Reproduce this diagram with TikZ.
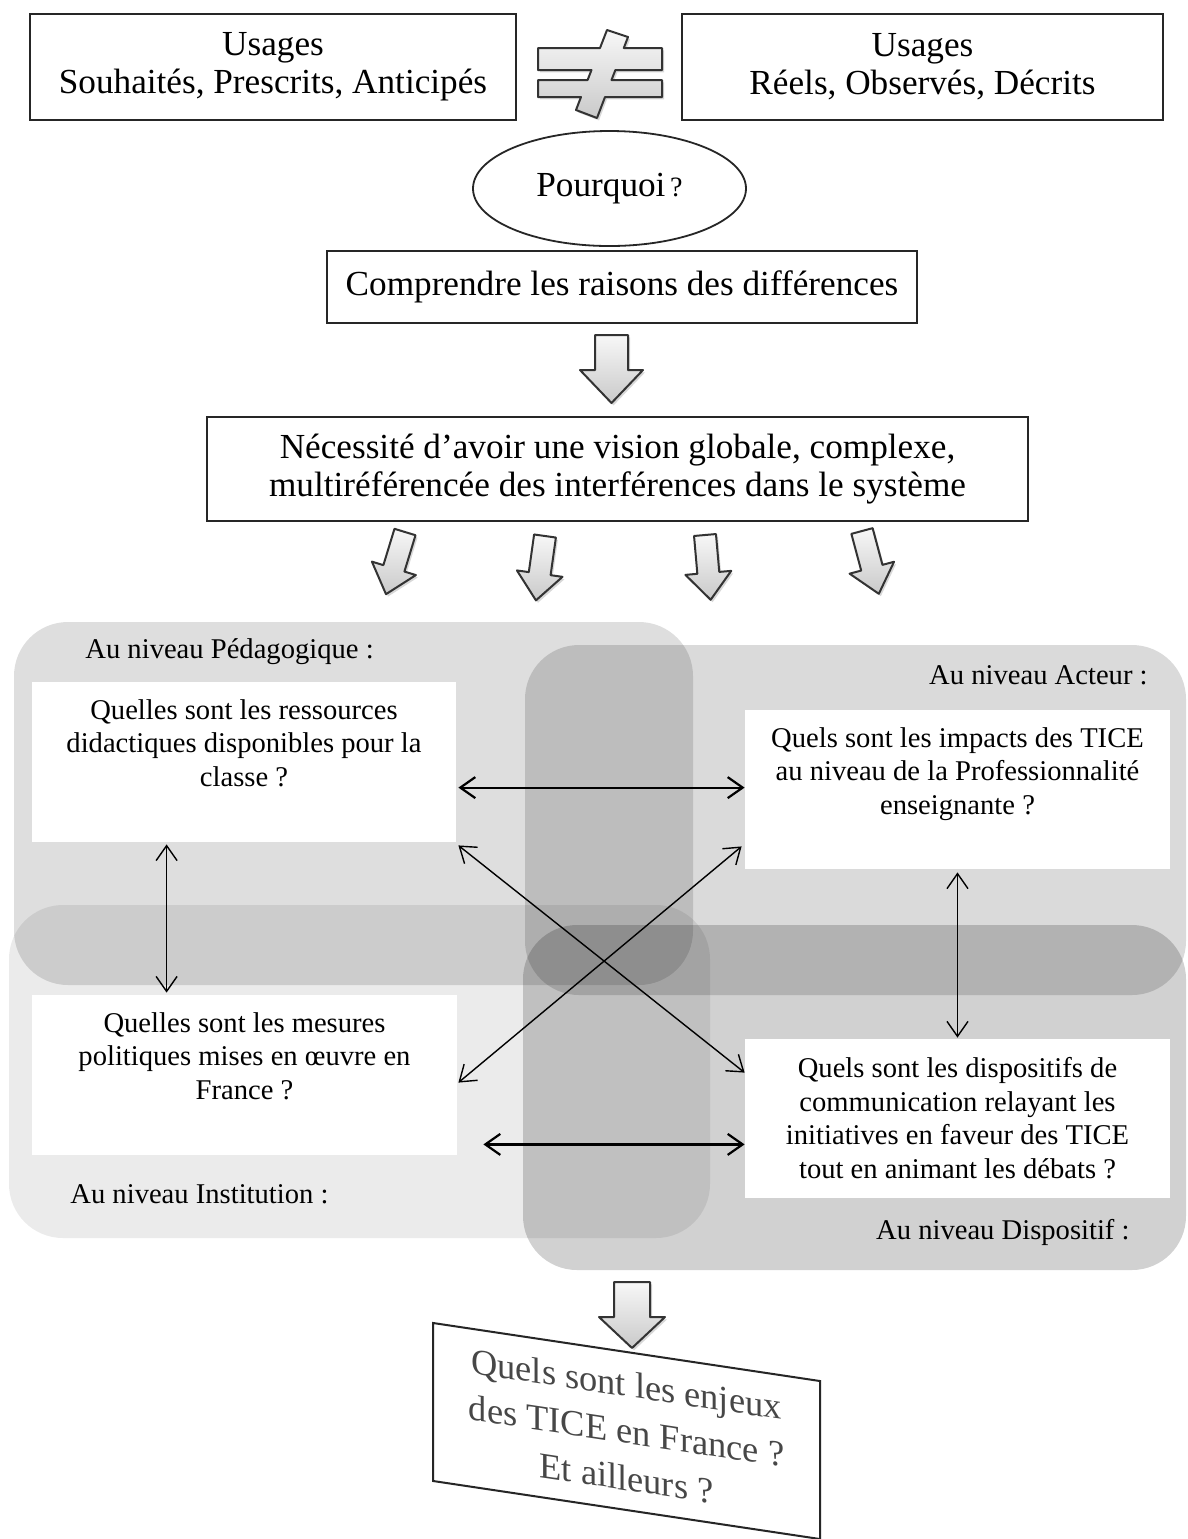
\documentclass[tikz,border=0pt]{standalone}
\usepackage{fontspec}
\setmainfont{Liberation Serif}
\usetikzlibrary{arrows.meta,shapes.geometric,shadows,calc}
\newcommand\ftop{\fontsize{17.6pt}{19pt}\selectfont}
\newcommand\fmid{\fontsize{14.3pt}{16.75pt}\selectfont}
\newcommand\fbot{\fontsize{18.2pt}{23.5pt}\selectfont}
\tikzset{
  topbox/.style={draw=black!85, line width=1pt, fill=white, align=center, font=\ftop, inner sep=0pt},
  band/.style={rounded corners=27pt, fill=black},
  wbox/.style={fill=white, inner sep=0pt},
  qtext/.style={align=center, font=\fmid, inner sep=0pt},
  lvl/.style={font=\fmid, inner sep=0pt},
  conn/.style={line width=0.7pt, >={Straight Barb[length=7.5pt,width=10.5pt]}, <->},
  connthick/.style={conn, line width=1.1pt},
  barrow/.style={draw=black!80, line width=1pt, line join=round, top color=gray!6, bottom color=gray!42,
    drop shadow={opacity=0.3, shadow xshift=1pt, shadow yshift=-1.2pt}},
  pics/blockarrow/.style n args={4}{code={
    \path[barrow] (-#1/2,0) -- (#1/2,0) -- (#1/2,#3-#4) -- (#2/2,#3-#4) -- (0,#3)
      -- (-#2/2,#3-#4) -- (-#1/2,#3-#4) -- cycle;
  }}
}
\begin{document}
\begin{tikzpicture}[x=0.5pt,y=-0.5pt]
\useasboundingbox[fill=white] (0,0) rectangle (1188,1539);

% ---- top part
\node[topbox, minimum width=243pt, minimum height=53pt] (usl) at (273,67)
  {Usages\\Souhaités, Prescrits, Anticipés};
\node[topbox, minimum width=240.5pt, minimum height=53pt] (usr) at (922.5,67)
  {Usages\\Réels, Observés, Décrits};

% not-equal sign
\path[barrow] (538,48) -- (600,48) -- (607,30) -- (628,37) -- (623.8,48) -- (662,48)
  -- (662,70) -- (615.4,70) -- (611.5,80) -- (662,80) -- (662,97) -- (605,97)
  -- (597,118) -- (576,110) -- (581,97) -- (538,97) -- (538,80) -- (587.6,80)
  -- (591.5,70) -- (538,70) -- cycle;

\node[ellipse, draw=black!85, line width=0.9pt, minimum width=136.5pt, minimum height=57.5pt,
  inner sep=0pt, font=\ftop] (why) at (609.5,188.5)
  {Pourquoi{\fontsize{14pt}{14pt}\selectfont\,?}};

\node[topbox, minimum width=295pt, minimum height=36pt] (comp) at (622,287)
  {Comprendre les raisons des différences};

\pic at (611.5,335) {blockarrow={33}{63}{68}{33}};

\node[topbox, minimum width=410.5pt, minimum height=52pt] (need) at (617.5,469)
  {Nécessité d’avoir une vision globale, complexe,\\multiréférencée des interférences dans le système};

\pic[rotate=-17] at (405,532) {blockarrow={22}{46}{65}{27}};
\pic[rotate=-8]  at (545,536) {blockarrow={22}{46}{65}{27}};
\pic[rotate=5]   at (705,535) {blockarrow={22}{46}{65}{27}};
\pic[rotate=15]  at (862,531) {blockarrow={22}{46}{65}{27}};

% ---- bands
\path[band, fill opacity=0.13] (14,622) rectangle (693,985);
\path[band, fill opacity=0.145] (525,645) rectangle (1186,995);
\path[band, fill opacity=0.08] (9,905) rectangle (710,1238);
\path[band, fill opacity=0.18] (523,925) rectangle (1186,1270);

\node[lvl, anchor=west] (lp) at (85,652) {Au niveau Pédagogique :};
\node[lvl, anchor=east] (la) at (1148,675) {Au niveau Acteur :};
\node[lvl, anchor=west] (li) at (70,1194) {Au niveau Institution :};
\node[lvl, anchor=east] (ld) at (1130,1232) {Au niveau Dispositif :};

% ---- white boxes
\node[wbox, minimum width=212pt, minimum height=80pt] (A) at (244,762) {};
\node[wbox, minimum width=212.5pt, minimum height=79.5pt] (B) at (957.5,789.5) {};
\node[wbox, minimum width=212.5pt, minimum height=80pt] (C) at (244.5,1075) {};
\node[wbox, minimum width=212.5pt, minimum height=79.5pt] (D) at (957.5,1118.5) {};

\node[qtext] (tA) at (244,743) {Quelles sont les ressources\\didactiques disponibles pour la\\classe ?};
\node[qtext] (tB) at (957.5,774) {Quels sont les impacts des TICE\\au niveau de la Professionnalité\\enseignante ?};
\node[qtext] (tC) at (244.5,1056) {Quelles sont les mesures\\politiques mises en œuvre en\\France ?};
\node[qtext] (tD) at (957.5,1118) {Quels sont les dispositifs de\\communication relayant les\\initiatives en faveur des TICE\\tout en animant les débats ?};

% ---- connectors
\draw[connthick] ($(A.north east)+(2,106)$) -- ($(B.north west)+(0,78)$);
\draw[conn] ($(A.south east)+(2,3)$) -- ($(D.north west)+(0,34)$);
\draw[conn] ($(B.south west)+(-3,-23)$) -- ($(C.north east)+(1,88)$);
\draw[conn] ($(A.south west)+(135,2)$) -- ($(C.north west)+(135,-2)$);
\draw[conn] ($(B.south)+(0,3)$) -- ($(D.north)+(0,-1)$);
\draw[connthick] ($(C.south east)+(26,-11)$) -- ($(D.south west)+(0,-54)$);

% ---- bottom
\pic at (632,1282) {blockarrow={36}{66}{66}{31}};
\begin{scope}[shift={(626.5,1435)}, yslant=-0.15]
  \node[draw=black!85, line width=1pt, fill=white, transform shape, minimum width=193.5pt,
    minimum height=79pt, align=center, font=\fbot, text=black!72] (stake) at (0,-4)
    {Quels sont les enjeux\\des TICE en France ?\\Et ailleurs ?};
\end{scope}
\end{tikzpicture}
\end{document}
